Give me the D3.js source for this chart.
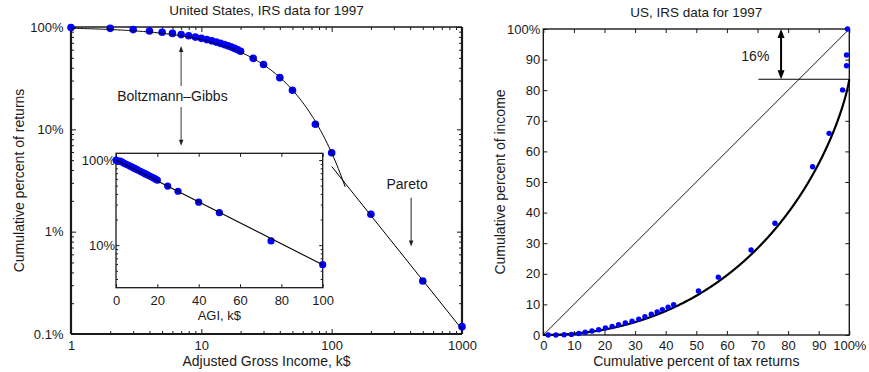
<!DOCTYPE html>
<html><head><meta charset="utf-8">
<script src="https://cdn.jsdelivr.net/npm/d3@7"></script>
<style>
body{margin:0;background:#fff;}
svg text{font-family:"Liberation Sans",Arial,sans-serif;fill:#1a1a1a;}
</style></head><body>
<svg id="c" width="869" height="372"></svg>
<script>
// ---------- DATA ----------
// Cumulative share of returns with AGI above a given income (k$)
const agiK = [0,1,2,3,4,5,6,7,8,9,10,11,12,13,14,15,16,17,18,19,20,25,30,40,50,75,100,200,500,1000];
const cumReturnsShare = [1.0,0.99,0.97,0.943,0.915,0.89,0.866,0.843,0.82,0.797,0.775,0.753,0.732,0.712,0.692,0.673,0.654,0.636,0.618,0.6,0.58,0.494,0.43,0.32,0.241,0.112,0.059,0.0148,0.0033,0.00118];
// Boltzmann–Gibbs (exponential) fit: temperature in k$
const bgTemperatureK = 35.3;
const bgMainRangeK = [1, 127];
const bgInsetRangeK = [0, 100];
// Pareto power-law fit segment
const paretoAgiK = [100, 1000];
const paretoShare = [0.0434, 0.00111];

// Lorenz data (right panel)
const lorenzReturnsPct = [1.6,4.1,6.8,9.2,11.6,13.7,15.9,18.1,20.3,22.5,24.6,26.8,29.0,31.2,33.2,35.3,37.2,38.9,40.8,42.6,50.7,57.2,67.9,75.7,88.0,93.4,97.8,99.1,99.1,99.4];
const lorenzIncomePct  = [0.0,0.0,0.1,0.2,0.5,0.9,1.3,1.7,2.3,2.8,3.4,3.9,4.5,5.2,6.0,6.8,7.5,8.3,9.1,9.9,14.4,18.9,27.8,36.5,55.0,65.9,80.1,88.0,91.5,100.0];
const paretoIncomeGap = 0.164;   // income share of the Pareto tail

// tick labels
const mainXTicks = [1,10,100,1000];
const mainXLabels = ["1","10","100","1000"];
const mainYTicks = [0.001,0.01,0.1,1];
const mainYLabels = ["0.1%","1%","10%","100%"];
const insetXTicks = [0,20,40,60,80,100];
const insetYTicks = [0.1,1];
const insetYLabels = ["10%","100%"];
const lorenzTicks = [0,10,20,30,40,50,60,70,80,90,100];
const lorenzLabels = ["0","10","20","30","40","50","60","70","80","90","100%"];

// ---------- DRAW ----------
const svg = d3.select("#c");
const BLUE = "#0000ff", INK = "#1a1a1a";

function minorLog(lo, hi){ // minor tick values in [lo,hi]
  const out=[];
  for(let d=-4; d<=3; d++) for(let k=2;k<=9;k++){const v=k*Math.pow(10,d); if(v>lo*1.0001 && v<hi*0.9999) out.push(v);}
  return out;
}
function ticks(g, axisFn, scale, vals, size, fmt, pad, fs){
  const a = axisFn(scale).tickValues(vals).tickSizeInner(size).tickSizeOuter(0).tickPadding(pad||0)
    .tickFormat(fmt || (()=>""));
  g.call(a);
  g.select(".domain").remove();
  g.selectAll(".tick line").attr("stroke",INK).attr("stroke-width",1);
  g.selectAll(".tick text").attr("font-size",(fs||13)+"px").attr("fill",INK).style("font-family","Liberation Sans, Arial, sans-serif");
  return g;
}
function head(g, x, y, dir, w, h, col){ // dir: 1 = pointing down, -1 = pointing up
  g.append("path").attr("d",`M${x},${y} L${x-w/2},${y-dir*h} L${x+w/2},${y-dir*h} Z`).attr("fill",col);
}

// ===== LEFT MAIN =====
const L = {l:71, r:462, t:27, b:334};
const xM = d3.scaleLog().domain([1,1000]).range([L.l,L.r]);
const yM = d3.scaleLog().domain([0.001,1]).range([L.b,L.t]);
const gM = svg.append("g");

ticks(gM.append("g").attr("transform",`translate(0,${L.b})`), d3.axisBottom, xM, mainXTicks, -5, (d,i)=>mainXLabels[i], 6.8);
ticks(gM.append("g").attr("transform",`translate(0,${L.b})`), d3.axisBottom, xM, minorLog(1,1000), -3);
ticks(gM.append("g").attr("transform",`translate(0,${L.t})`), d3.axisTop, xM, mainXTicks, -5);
ticks(gM.append("g").attr("transform",`translate(0,${L.t})`), d3.axisTop, xM, minorLog(1,1000), -3);
ticks(gM.append("g").attr("transform",`translate(${L.l},0)`), d3.axisLeft, yM, mainYTicks, -5, (d,i)=>mainYLabels[i], 7.5);
ticks(gM.append("g").attr("transform",`translate(${L.l},0)`), d3.axisLeft, yM, minorLog(0.001,1), -3);
ticks(gM.append("g").attr("transform",`translate(${L.r},0)`), d3.axisRight, yM, mainYTicks, -5);
ticks(gM.append("g").attr("transform",`translate(${L.r},0)`), d3.axisRight, yM, minorLog(0.001,1), -3);
// frame
gM.append("line").attr("x1",L.l).attr("x2",L.r).attr("y1",L.t).attr("y2",L.t).attr("stroke",INK).attr("stroke-width",1.6);
gM.append("line").attr("x1",L.l).attr("x2",L.r).attr("y1",L.b).attr("y2",L.b).attr("stroke",INK).attr("stroke-width",2.2);
gM.append("line").attr("x1",L.l).attr("x2",L.l).attr("y1",L.t).attr("y2",L.b).attr("stroke",INK).attr("stroke-width",2.2);
gM.append("line").attr("x1",L.r).attr("x2",L.r).attr("y1",L.t).attr("y2",L.b).attr("stroke",INK).attr("stroke-width",2.2);

const mainPts = agiK.map((a,i)=>({a, s:cumReturnsShare[i]})).filter(d=>d.a>=1);
gM.selectAll("circle.m").data(mainPts).join("circle").attr("class","m")
  .attr("cx",d=>xM(d.a)).attr("cy",d=>yM(d.s)).attr("r",3.8).attr("fill",BLUE);
const bgMain = d3.range(0,201).map(i=>bgMainRangeK[0]*Math.pow(bgMainRangeK[1]/bgMainRangeK[0], i/200))
  .map(a=>({a, s:Math.exp(-a/bgTemperatureK)}));
gM.append("path").datum(bgMain).attr("fill","none").attr("stroke","#000").attr("stroke-width",1)
  .attr("d",d3.line().x(d=>xM(d.a)).y(d=>yM(d.s)));
gM.append("path").datum(paretoAgiK.map((a,i)=>({a,s:paretoShare[i]}))).attr("fill","none").attr("stroke","#000").attr("stroke-width",1)
  .attr("d",d3.line().x(d=>xM(d.a)).y(d=>yM(d.s)));

// annotations
const ag = gM.append("g");
const bx = xM(7);
ag.append("line").attr("x1",bx).attr("x2",bx).attr("y1",yM(0.265)).attr("y2",yM(0.62)).attr("stroke","#666").attr("stroke-width",1.3);
head(ag,bx,yM(0.652),-1,4.5,6,"#222");
ag.append("line").attr("x1",bx).attr("x2",bx).attr("y1",yM(0.165)).attr("y2",yM(0.075)).attr("stroke","#666").attr("stroke-width",1.3);
head(ag,bx,yM(0.069),1,4.5,6,"#222");
ag.append("text").attr("x",xM(6.0)).attr("y",yM(0.189)).attr("text-anchor","middle").attr("font-size","14px").text("Boltzmann\u2013Gibbs");
const px = xM(407);
ag.append("line").attr("x1",px).attr("x2",px).attr("y1",yM(0.0215)).attr("y2",yM(0.0079)).attr("stroke","#333").attr("stroke-width",1.1);
head(ag,px,yM(0.00715),1,4.5,6,"#222");
ag.append("text").attr("x",xM(379)).attr("y",yM(0.0262)).attr("text-anchor","middle").attr("font-size","14px").text("Pareto");

// titles and axis labels
svg.append("text").attr("x",(L.l+L.r)/2).attr("y",15).attr("text-anchor","middle").attr("font-size","13.5px").text("United States, IRS data for 1997");
svg.append("text").attr("x",(L.l+L.r)/2).attr("y",365.5).attr("text-anchor","middle").attr("font-size","14px").text("Adjusted Gross Income, k$");
svg.append("text").attr("transform",`translate(24,${(L.t+L.b)/2}) rotate(-90)`).attr("text-anchor","middle").attr("font-size","14px").text("Cumulative percent of returns");

// ===== INSET =====
const I = {l:116, r:322.7, t:153.3, b:287.7};
const xI = d3.scaleLinear().domain([0,100]).range([I.l,I.r]);
const yI = d3.scaleLog().domain([Math.pow(10,-1.5),1.2]).range([I.b,I.t]);
const gI = svg.append("g");
gI.append("rect").attr("x",I.l).attr("y",I.t).attr("width",I.r-I.l).attr("height",I.b-I.t).attr("fill","#fff");
ticks(gI.append("g").attr("transform",`translate(0,${I.b})`), d3.axisBottom, xI, insetXTicks, -3.5, d=>d, 8.3);
ticks(gI.append("g").attr("transform",`translate(0,${I.t})`), d3.axisTop, xI, insetXTicks, -3.5);
ticks(gI.append("g").attr("transform",`translate(${I.l},0)`), d3.axisLeft, yI, insetYTicks, -3.5, (d,i)=>insetYLabels[i], 1);
ticks(gI.append("g").attr("transform",`translate(${I.l},0)`), d3.axisLeft, yI, minorLog(0.0316,1.2), -2);
ticks(gI.append("g").attr("transform",`translate(${I.r},0)`), d3.axisRight, yI, insetYTicks, -3.5);
ticks(gI.append("g").attr("transform",`translate(${I.r},0)`), d3.axisRight, yI, minorLog(0.0316,1.2), -2);
gI.append("rect").attr("x",I.l).attr("y",I.t).attr("width",I.r-I.l).attr("height",I.b-I.t).attr("fill","none").attr("stroke",INK).attr("stroke-width",1.3);
const insetPts = agiK.map((a,i)=>({a, s:cumReturnsShare[i]})).filter(d=>d.a<=100);
gI.selectAll("circle").data(insetPts).join("circle")
  .attr("cx",d=>xI(d.a)).attr("cy",d=>yI(d.a===1?0.972:d.s)).attr("r",3.6).attr("fill",BLUE);
gI.append("path").datum(bgInsetRangeK.map(a=>({a,s:Math.exp(-a/bgTemperatureK)}))).attr("fill","none").attr("stroke","#000").attr("stroke-width",1.1)
  .attr("d",d3.line().x(d=>xI(d.a)).y(d=>yI(d.s)));
svg.append("text").attr("x",(I.l+I.r)/2).attr("y",319.5).attr("text-anchor","middle").attr("font-size","13px").text("AGI, k$");

// ===== RIGHT: LORENZ =====
const R = {l:543.3, r:849.3, t:29, b:335};
const xR = d3.scaleLinear().domain([0,100]).range([R.l,R.r]);
const yR = d3.scaleLinear().domain([0,100]).range([R.b,R.t]);
const gR = svg.append("g");
ticks(gR.append("g").attr("transform",`translate(0,${R.b})`), d3.axisBottom, xR, lorenzTicks, -4, (d,i)=>lorenzLabels[i], 5.8);
ticks(gR.append("g").attr("transform",`translate(0,${R.t})`), d3.axisTop, xR, lorenzTicks, -4);
ticks(gR.append("g").attr("transform",`translate(${R.l},0)`), d3.axisLeft, yR, lorenzTicks, -4, (d,i)=>lorenzLabels[i], 3);
ticks(gR.append("g").attr("transform",`translate(${R.r},0)`), d3.axisRight, yR, lorenzTicks, -4);
gR.append("rect").attr("x",R.l).attr("y",R.t).attr("width",R.r-R.l).attr("height",R.b-R.t).attr("fill","none").attr("stroke",INK).attr("stroke-width",1.4);
gR.append("line").attr("x1",xR(0)).attr("y1",yR(0)).attr("x2",xR(100)).attr("y2",yR(100)).attr("stroke","#000").attr("stroke-width",0.9);
const lorenzCurve = d3.range(0,1001).map(i=>{const p=1-Math.pow(1-i/1000,2); const q=1-p;
  return {x:p*100, y:(1-paretoIncomeGap)*(p + (q>0? q*Math.log(q):0))*100};});
gR.append("path").datum(lorenzCurve).attr("fill","none").attr("stroke","#000").attr("stroke-width",2.2)
  .attr("d",d3.line().x(d=>xR(d.x)).y(d=>yR(d.y)));
gR.append("line").attr("x1",xR(70.3)).attr("x2",xR(100)).attr("y1",yR((1-paretoIncomeGap)*100)).attr("y2",yR((1-paretoIncomeGap)*100)).attr("stroke","#000").attr("stroke-width",1.1);
const ax = xR(77.7);
gR.append("line").attr("x1",ax).attr("x2",ax).attr("y1",yR(100)+7).attr("y2",yR((1-paretoIncomeGap)*100)-7).attr("stroke","#000").attr("stroke-width",2);
head(gR,ax,yR(100),-1,7,9,"#000");
head(gR,ax,yR((1-paretoIncomeGap)*100),1,7,9,"#000");
gR.append("text").attr("x",xR(69.3)).attr("y",yR(89.5)).attr("text-anchor","middle").attr("font-size","14px").text("16%");
gR.selectAll("circle").data(lorenzReturnsPct.map((x,i)=>({x,y:lorenzIncomePct[i]}))).join("circle")
  .attr("cx",d=>xR(d.x)).attr("cy",d=>yR(d.y)).attr("r",2.7).attr("fill",BLUE);

svg.append("text").attr("x",(R.l+R.r)/2).attr("y",17).attr("text-anchor","middle").attr("font-size","13.5px").text("US, IRS data for 1997");
svg.append("text").attr("x",(R.l+R.r)/2).attr("y",365.5).attr("text-anchor","middle").attr("font-size","14px").text("Cumulative percent of tax returns");
svg.append("text").attr("transform",`translate(505,${(R.t+R.b)/2}) rotate(-90)`).attr("text-anchor","middle").attr("font-size","14px").text("Cumulative percent of income");
</script>
</body></html>
